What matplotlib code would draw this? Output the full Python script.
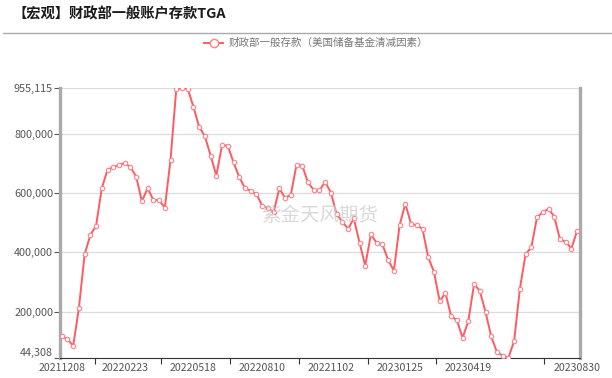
import matplotlib
matplotlib.use("Agg")
import matplotlib.pyplot as plt
from matplotlib.lines import Line2D
import pandas as pd

plt.rcParams['font.family'] = ['Noto Sans CJK SC', 'DejaVu Sans']

# weekly categories 2021-12-08 .. 2023-08-30
dates = pd.date_range('2021-12-08', periods=91, freq='7D').strftime('%Y%m%d').tolist()

tga = [116000, 107000, 84000, 212000, 393000, 459000, 490000, 617000, 679000, 688000,
       695000, 702000, 688000, 656000, 572000, 617000, 577000, 577000, 550000, 713000,
       951000, 955115, 953000, 891500, 824000, 792000, 727000, 659000, 763000, 760000,
       704000, 654000, 617000, 608000, 597000, 558000, 549000, 536000, 616000, 584000,
       594000, 696000, 693000, 636000, 611000, 609000, 638000, 602000, 529000, 504000,
       479000, 515000, 433000, 355000, 462000, 431000, 427000, 374000, 338000, 492000,
       564000, 496000, 492000, 479000, 383000, 334000, 235000, 263000, 184000, 171000,
       111000, 168000, 293000, 270000, 199000, 116000, 63000, 51000, 44308, 100500,
       277000, 394000, 417000, 519000, 535000, 547000, 521000, 444000, 436000, 413000,
       473000]

title = '【宏观】财政部一般账户存款TGA'
series_name = '财政部一般存款（美国储备基金清减因素）'
watermark = '紫金天风期货'
label_idx = [0, 11, 23, 35, 47, 59, 71, 90]
ymin, ymax = min(tga), max(tga)
yticks = [ymin, 200000, 400000, 600000, 800000, ymax]

line_color = '#ff5a60'

fig = plt.figure(figsize=(6.12, 3.78), dpi=100)
ax = fig.add_axes([60/612, 1-357.7/378, 520/612, (357.7-88)/378])

x = list(range(len(tga)))
ax.plot(x, tga, color=line_color, lw=1.4, marker='o', ms=3.2,
        mfc='white', mec='#ff8088', mew=0.8, zorder=3)

ax.set_xlim(-0.3, 90.5)
ax.set_ylim(ymin, ymax)
ax.set_yticks(yticks)
ax.set_yticklabels([f'{v:,}' for v in yticks])
ax.yaxis.grid(True, color='#dcdcdc', lw=0.9)
ax.set_axisbelow(True)

ax.set_xticks(label_idx)
ax.set_xticklabels([dates[i] for i in label_idx])
ax.set_xticks([5.8, 17.4, 29.4, 41.4, 53.5, 65.3, 84.2], minor=True)
ax.tick_params(axis='x', which='major', length=0, labelsize=7.6, colors='#555555', pad=4)
ax.tick_params(axis='x', which='minor', length=4, width=0.8, color='#333333', direction='out')
ax.tick_params(axis='y', length=4, width=0.8, color='#555555', labelsize=7.8,
               labelcolor='#555555', pad=1)
# lift the bottom y label slightly so it sits on the axis like the reference
ax.get_yticklabels()[0].set_verticalalignment('bottom')

for s in ['top']:
    ax.spines[s].set_visible(False)
ax.spines['left'].set_color('#aaaaaa')
ax.spines['left'].set_linewidth(2.4)
ax.spines['right'].set_color('#aaaaaa')
ax.spines['right'].set_linewidth(2.4)
ax.spines['bottom'].set_color('#333333')
ax.spines['bottom'].set_linewidth(0.8)

# title and separator
fig.text(12/612, 1-14/378, title, fontsize=10.3, fontweight='bold', color='#1a1a1a',
         va='center', ha='left')
fig.add_artist(Line2D([3/612, 1.0], [1-33/378, 1-33/378], color='#aaaaaa', lw=1.0))

# legend
ly = 1-43/378
fig.add_artist(Line2D([204/612, 223/612], [ly, ly], color=line_color, lw=1.4))
fig.add_artist(Line2D([213.5/612], [ly], marker='o', ms=6, mfc='white', mec='#ff8088', mew=1.0))
fig.text(229/612, ly, series_name, fontsize=7.6, color='#777777', va='center', ha='left')

# watermark
fig.text(320/612, 1-215/378, watermark, fontsize=14, color='#d0d0d0', alpha=0.8,
         ha='center', va='center')

fig.savefig('out.png', dpi=100)
